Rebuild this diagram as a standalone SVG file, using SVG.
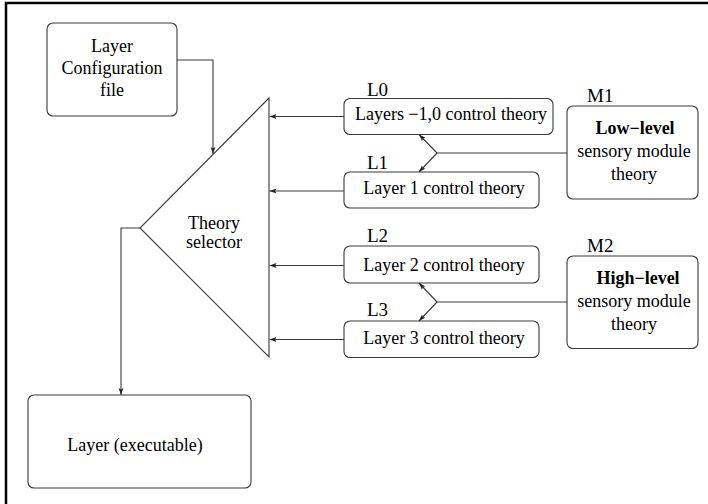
<svg xmlns="http://www.w3.org/2000/svg" width="708" height="504" viewBox="0 0 708 504">
  <style>
    .box { fill: #ffffff; stroke: #3a3a3a; stroke-width: 1.1; }
    .wire { fill: none; stroke: #3a3a3a; stroke-width: 1.1; }
    .t { font-family: "Liberation Serif", "Times New Roman", serif; font-size: 18px; fill: #000; }
    .lbl { font-family: "Liberation Serif", "Times New Roman", serif; font-size: 19px; fill: #000; }
    .c { text-anchor: middle; }
    .b { font-weight: bold; }
  </style>
  <defs>
    <marker id="arr" markerWidth="8" markerHeight="6" refX="7" refY="3" orient="auto" markerUnits="userSpaceOnUse">
      <path d="M0,0.6 L7,3 L0,5.4 L1.5,3 Z" fill="#222"/>
    </marker>
  </defs>

  <rect width="708" height="504" fill="#ffffff"/>
  <!-- page frame (only top and left edges fall inside the view) -->
  <rect x="6" y="3" width="740" height="540" fill="none" stroke="#000" stroke-width="2.5"/>

  <g id="config">
    <rect class="box" x="47" y="23" width="130" height="93" rx="6"/>
    <text class="t c" x="112" y="52">Layer</text>
    <text class="t c" x="112" y="74">Configuration</text>
    <text class="t c" x="112" y="96">file</text>
  </g>

  <g id="selector">
    <polygon class="box" points="269,98 140,228 269,357"/>
    <text class="t c" x="214" y="229">Theory</text>
    <text class="t c" x="214" y="248">selector</text>
  </g>

  <g id="executable">
    <rect class="box" x="28" y="395" width="223" height="93" rx="6"/>
    <text class="t c" x="135" y="451">Layer (executable)</text>
  </g>

  <g id="L0">
    <text class="lbl" x="367" y="96">L0</text>
    <rect class="box" x="344" y="98.5" width="209" height="36" rx="6"/>
    <text class="t c" x="451" y="120">Layers −1,0 control theory</text>
  </g>

  <g id="L1">
    <text class="lbl" x="367" y="169">L1</text>
    <rect class="box" x="344" y="172" width="195" height="36" rx="6"/>
    <text class="t c" x="444" y="194">Layer 1 control theory</text>
  </g>

  <g id="L2">
    <text class="lbl" x="367" y="242">L2</text>
    <rect class="box" x="344" y="246" width="195" height="37" rx="6"/>
    <text class="t c" x="444" y="271">Layer 2 control theory</text>
  </g>

  <g id="L3">
    <text class="lbl" x="367" y="316">L3</text>
    <rect class="box" x="344" y="321" width="195" height="36.5" rx="6"/>
    <text class="t c" x="444" y="344">Layer 3 control theory</text>
  </g>

  <g id="M1">
    <text class="lbl" x="587" y="102">M1</text>
    <rect class="box" x="567" y="106" width="131" height="93" rx="6"/>
    <text class="t c b" x="635" y="134">Low−level</text>
    <text class="t c" x="634" y="157">sensory module</text>
    <text class="t c" x="634" y="180">theory</text>
  </g>

  <g id="M2">
    <text class="lbl" x="587" y="252">M2</text>
    <rect class="box" x="567" y="256" width="131" height="92.5" rx="6"/>
    <text class="t c b" x="638" y="284">High−level</text>
    <text class="t c" x="634" y="307">sensory module</text>
    <text class="t c" x="634" y="330">theory</text>
  </g>

  <g id="connectors">
    <path class="wire" d="M177,60 H213 V154" marker-end="url(#arr)"/>
    <path class="wire" d="M140,228 H121 V395" marker-end="url(#arr)"/>
    <path class="wire" d="M344,116.5 H269.5" marker-end="url(#arr)"/>
    <path class="wire" d="M344,191 H269.5" marker-end="url(#arr)"/>
    <path class="wire" d="M344,265.5 H269.5" marker-end="url(#arr)"/>
    <path class="wire" d="M344,339.5 H269.5" marker-end="url(#arr)"/>
    <path class="wire" d="M567,153 H437"/>
    <path class="wire" d="M437,153 L419,134.5" marker-end="url(#arr)"/>
    <path class="wire" d="M437,153 L419,172" marker-end="url(#arr)"/>
    <path class="wire" d="M567,302 H437"/>
    <path class="wire" d="M437,302 L419,283" marker-end="url(#arr)"/>
    <path class="wire" d="M437,302 L419,321" marker-end="url(#arr)"/>
  </g>
</svg>
